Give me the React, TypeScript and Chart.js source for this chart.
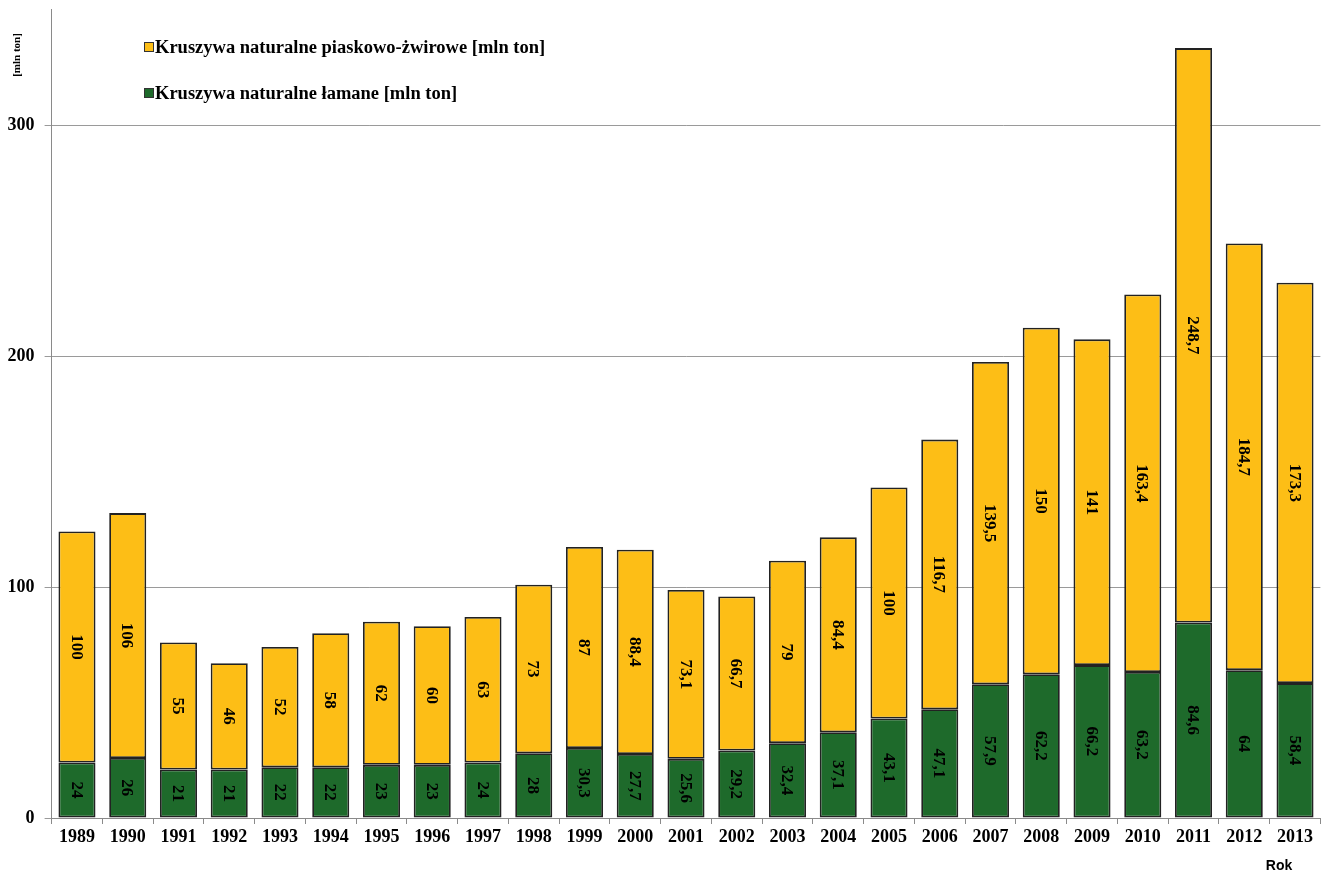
import React, { useEffect, useRef } from "react";
import { Chart, registerables } from "chart.js";

Chart.register(...registerables);

const years = ["1989","1990","1991","1992","1993","1994","1995","1996","1997","1998","1999","2000","2001","2002","2003","2004","2005","2006","2007","2008","2009","2010","2011","2012","2013"];
const lamane = [24,26,21,21,22,22,23,23,24,28,30.3,27.7,25.6,29.2,32.4,37.1,43.1,47.1,57.9,62.2,66.2,63.2,84.6,64,58.4];
const piaskowe = [100,106,55,46,52,58,62,60,63,73,87,88.4,73.1,66.7,79,84.4,100,116.7,139.5,150,141,163.4,248.7,184.7,173.3];
const labelPiaskowe = "Kruszywa naturalne piaskowo-żwirowe [mln ton]";
const labelLamane = "Kruszywa naturalne łamane [mln ton]";
const yTitle = "[mln ton]";
const xTitle = "Rok";

const ORANGE = "#FDBE16";
const GREEN = "#1E6A2B";
const SERIF = "'Liberation Serif', 'Times New Roman', serif";
const SANS = "'Liberation Sans', Arial, sans-serif";

const fmt = (v: number) => String(v).replace(".", ",");

const overlayPlugin = {
  id: "overlay",
  afterDatasetsDraw(chart: any) {
    const ctx = chart.ctx;
    ctx.save();
    ctx.fillStyle = "#000";
    ctx.font = `bold 17px ${SERIF}`;
    ctx.textAlign = "center";
    ctx.textBaseline = "middle";
    chart.data.datasets.forEach((ds: any, di: number) => {
      const meta = chart.getDatasetMeta(di);
      meta.data.forEach((el: any, i: number) => {
        const cx = el.x;
        const cy = (el.y + el.base) / 2;
        ctx.save();
        ctx.translate(cx, cy);
        ctx.rotate(Math.PI / 2);
        ctx.fillText(fmt(ds.data[i]), 0, 1);
        ctx.restore();
      });
    });
    ctx.restore();
  },
  afterDraw(chart: any) {
    const ctx = chart.ctx;
    ctx.save();
    const items = [
      { label: labelPiaskowe, color: ORANGE, y: 47 },
      { label: labelLamane, color: GREEN, y: 93 },
    ];
    items.forEach((it) => {
      ctx.fillStyle = it.color;
      ctx.fillRect(144, it.y - 5, 10, 10);
      ctx.strokeStyle = "#333";
      ctx.lineWidth = 1;
      ctx.strokeRect(144.5, it.y - 4.5, 9, 9);
      ctx.fillStyle = "#000";
      ctx.font = `bold 18.5px ${SERIF}`;
      ctx.textAlign = "left";
      ctx.textBaseline = "middle";
      ctx.fillText(it.label, 155, it.y + 1);
    });
    ctx.save();
    ctx.translate(17, 55);
    ctx.rotate(-Math.PI / 2);
    ctx.font = `bold 11px ${SERIF}`;
    ctx.textAlign = "center";
    ctx.textBaseline = "middle";
    ctx.fillText(yTitle, 0, 0);
    ctx.restore();
    ctx.font = `bold 14px ${SANS}`;
    ctx.textAlign = "center";
    ctx.textBaseline = "middle";
    ctx.fillText(xTitle, 1279, 866);
    ctx.restore();
  },
};

export default function App() {
  const ref = useRef<HTMLCanvasElement | null>(null);
  useEffect(() => {
    document.body.style.margin = "0";
    const chart = new Chart(ref.current as HTMLCanvasElement, {
      type: "bar",
      data: {
        labels: years,
        datasets: [
          {
            label: labelLamane,
            data: lamane,
            backgroundColor: GREEN,
            borderColor: "#222",
            borderWidth: 1.8,
            borderSkipped: false,
          },
          {
            label: labelPiaskowe,
            data: piaskowe,
            backgroundColor: ORANGE,
            borderColor: "#222",
            borderWidth: 1.8,
            borderSkipped: false,
          },
        ],
      },
      options: {
        animation: false,
        responsive: false,
        devicePixelRatio: 1,
        layout: { padding: { top: 9.5, right: 5.6, left: 0, bottom: 0 } },
        plugins: { legend: { display: false }, tooltip: { enabled: false } },
        datasets: { bar: { barPercentage: 0.73, categoryPercentage: 1 } },
        scales: {
          x: {
            stacked: true,
            offset: true,
            grid: {
              display: true,
              drawOnChartArea: false,
              drawTicks: true,
              tickLength: 6,
              color: "#8a8a8a",
              offset: true,
            },
            border: { display: true, color: "#8a8a8a", width: 1 },
            ticks: {
              color: "#000",
              font: { family: SERIF, size: 18, weight: "bold" },
              padding: 3,
              maxRotation: 0,
              autoSkip: false,
            },
            afterFit: (s: any) => {
              s.height = 56;
              s.paddingLeft = 0;
              s.paddingRight = 0;
            },
          },
          y: {
            stacked: true,
            min: 0,
            max: 350,
            ticks: {
              stepSize: 100,
              color: "#000",
              font: { family: SERIF, size: 18, weight: "bold" },
              padding: 10,
            },
            afterBuildTicks: (s: any) => {
              s.ticks = s.ticks.filter((t: any) => t.value % 100 === 0);
            },
            grid: { color: "#9a9a9a", tickLength: 7, lineWidth: 1 },
            border: { display: true, color: "#8a8a8a", width: 1 },
            afterFit: (s: any) => {
              s.width = 51.6;
              s.paddingTop = 0;
              s.paddingBottom = 0;
            },
          },
        },
      },
      plugins: [overlayPlugin],
    } as any);
    return () => chart.destroy();
  }, []);
  return (
    <div style={{ position: "absolute", left: 0, top: 0, width: 1326, height: 874, background: "#fff" }}>
      <canvas ref={ref} width={1326} height={874} style={{ width: 1326, height: 874 }} />
    </div>
  );
}
